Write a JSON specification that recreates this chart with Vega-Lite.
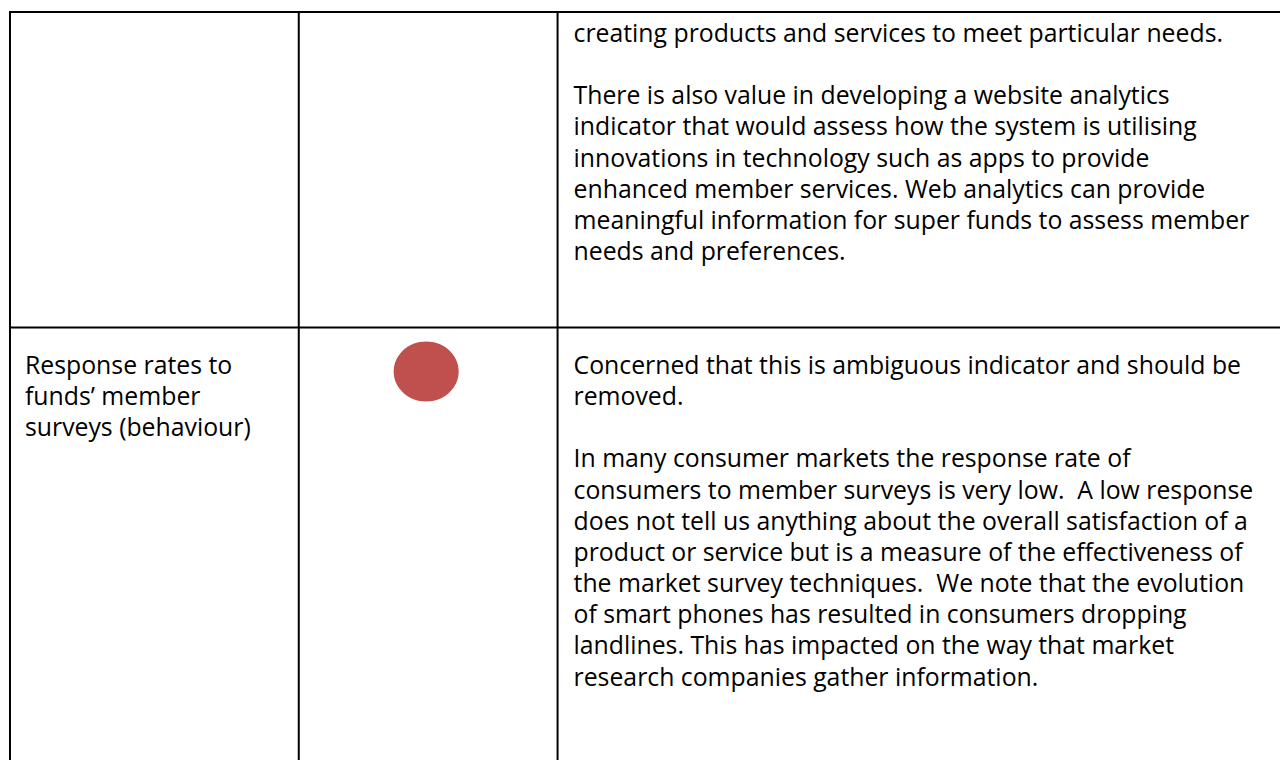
{
  "$schema": "https://vega.github.io/schema/vega-lite/v6.json",
  "width": 1281,
  "height": 761,
  "padding": 0,
  "autosize": {"type": "fit", "contains": "padding"},
  "background": "white",
  "config": {"view": {"stroke": null}},
  "layer": [
    {
      "data": {"values": [
        {"x": 10, "x2": 10, "y": 11, "y2": 761},
        {"x": 299, "x2": 299, "y": 11, "y2": 761},
        {"x": 558, "x2": 558, "y": 11, "y2": 761},
        {"x": 9, "x2": 1281, "y": 12, "y2": 12},
        {"x": 9, "x2": 1281, "y": 328, "y2": 328}
      ]},
      "mark": {"type": "rule", "color": "#000000", "strokeWidth": 2},
      "encoding": {
        "x": {"field": "x", "type": "quantitative", "scale": {"domain": [0, 1281], "nice": false, "zero": false}, "axis": null},
        "x2": {"field": "x2"},
        "y": {"field": "y", "type": "quantitative", "scale": {"domain": [0, 761], "nice": false, "zero": false, "reverse": true}, "axis": null},
        "y2": {"field": "y2"}
      }
    },
    {
      "data": {"values": [
        {"indicator": "Response rates to funds’ member surveys (behaviour)", "rating": "red", "x": 426.5, "y": 372}
      ]},
      "mark": {"type": "point", "filled": true, "opacity": 1, "color": "#C0504D", "strokeWidth": 0, "size": 4225, "shape": "M-1,0A1,0.923,0,1,0,1,0A1,0.923,0,1,0,-1,0Z"},
      "encoding": {
        "x": {"field": "x", "type": "quantitative"},
        "y": {"field": "y", "type": "quantitative"}
      }
    },
    {
      "data": {"values": [
        {"x": 574, "y": 42, "text": "creating products and services to meet particular needs."},
        {"x": 574, "y": 104.4, "text": "There is also value in developing a website analytics"},
        {"x": 574, "y": 135.6, "text": "indicator that would assess how the system is utilising"},
        {"x": 574, "y": 166.8, "text": "innovations in technology such as apps to provide"},
        {"x": 574, "y": 198, "text": "enhanced member services. Web analytics can provide"},
        {"x": 574, "y": 229.2, "text": "meaningful information for super funds to assess member"},
        {"x": 574, "y": 260.4, "text": "needs and preferences."},
        {"x": 25, "y": 374.5, "text": "Response rates to"},
        {"x": 25, "y": 405.7, "text": "funds’ member"},
        {"x": 25, "y": 436.9, "text": "surveys (behaviour)"},
        {"x": 574, "y": 374.5, "text": "Concerned that this is ambiguous indicator and should be"},
        {"x": 574, "y": 405.7, "text": "removed."},
        {"x": 574, "y": 468.1, "text": "In many consumer markets the response rate of"},
        {"x": 574, "y": 499.3, "text": "consumers to member surveys is very low.\u00a0 A low response"},
        {"x": 574, "y": 530.5, "text": "does not tell us anything about the overall satisfaction of a"},
        {"x": 574, "y": 561.7, "text": "product or service but is a measure of the effectiveness of"},
        {"x": 574, "y": 592.9, "text": "the market survey techniques.\u00a0 We note that the evolution"},
        {"x": 574, "y": 624.1, "text": "of smart phones has resulted in consumers dropping"},
        {"x": 574, "y": 655.3, "text": "landlines. This has impacted on the way that market"},
        {"x": 574, "y": 686.5, "text": "research companies gather information."}
      ]},
      "mark": {"type": "text", "align": "left", "baseline": "alphabetic", "font": "Open Sans", "fontSize": 24.8, "color": "#000000"},
      "encoding": {
        "x": {"field": "x", "type": "quantitative"},
        "y": {"field": "y", "type": "quantitative"},
        "text": {"field": "text"}
      }
    }
  ]
}
